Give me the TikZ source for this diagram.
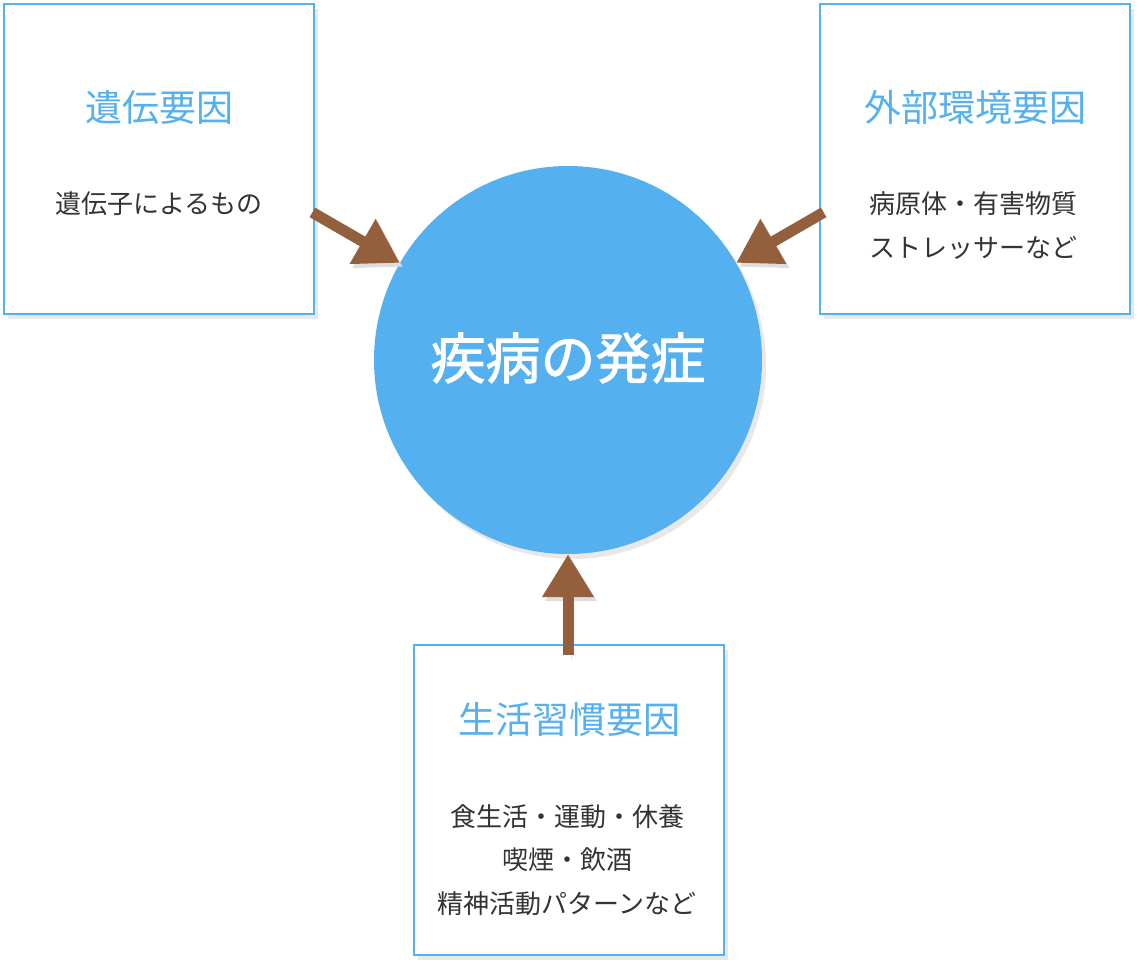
\documentclass[tikz,border=0pt]{standalone}
\usepackage{fontspec}
\setmainfont{Noto Sans CJK JP}
\newfontfamily\centrefont[FakeBold=1.6]{Noto Sans CJK JP}
\usetikzlibrary{arrows.meta, shadows, positioning, calc}
\definecolor{skyblue}{HTML}{55B0F0}
\definecolor{causebrown}{HTML}{935F3D}
\definecolor{bodygray}{HTML}{333333}

\begin{document}
\begin{tikzpicture}[
    x=1pt, y=-1pt,
    factor/.style={
        draw=skyblue,
        line width=2pt,
        fill=white,
        minimum size=310pt,
        inner sep=0pt,
        drop shadow={shadow xshift=4pt, shadow yshift=-5pt, opacity=0.18}
    },
    title/.style={text=skyblue, font=\fontsize{37}{44}\selectfont, inner sep=0pt},
    body/.style={text=bodygray, font=\fontsize{26}{43.5}\selectfont, align=center, inner sep=0pt},
    arrow/.style={
        causebrown,
        line width=11pt,
        -{Triangle[length=43pt, width=49pt]},
        preaction={draw=black!13, transform canvas={shift={(3pt,-4pt)}}}
    }
]
\useasboundingbox (0,0) rectangle (1146,972);

% --- Centre ---
\node (illness) [circle, fill=skyblue, minimum size=388pt, inner sep=0pt,
    drop shadow={shadow xshift=4pt, shadow yshift=-5pt, opacity=0.18}] at (568,360) {};
\node (illnessT) [text=white, font=\fontsize{55}{60}\centrefont] at (568,358) {疾病の発症};

% --- Left box ---
\node (genetic) [factor] at (159,159) {};
\node (geneticT) [title] at (159,107) {遺伝要因};
\node (geneticB) [body] at (159,204) {遺伝子によるもの};

% --- Right box ---
\node (environ) [factor] at (975,159) {};
\node (environT) [title] at (975,107) {外部環境要因};
\node (environB) [body] at (973,225.5) {病原体・有害物質\\ストレッサーなど};

% --- Bottom box ---
\node (lifestyle) [factor] at (569,800) {};
\node (lifestyleT) [title] at (569,719) {生活習慣要因};
\node (lifestyleB) [body] at (567,860) {食生活・運動・休養\\喫煙・飲酒\\精神活動パターンなど};

% --- Arrows ---
\draw[arrow] ($(illness.center)!1.52!(illness.150)$) -- (illness.150);
\draw[arrow] ($(illness.center)!1.52!(illness.30)$) -- (illness.30);
\draw[arrow] ($(illness.center)!1.52!(illness.270)$) -- (illness.270);

\end{tikzpicture}
\end{document}
